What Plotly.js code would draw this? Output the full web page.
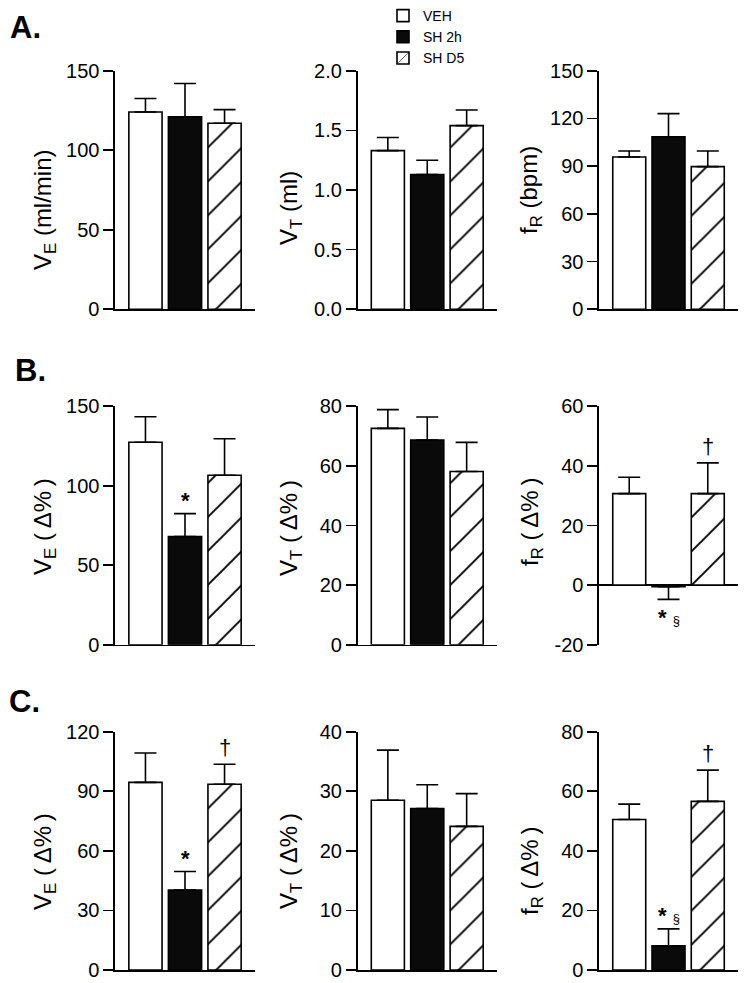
<!DOCTYPE html>
<html><head><meta charset="utf-8">
<script src="https://cdn.plot.ly/plotly-3.0.1.min.js"></script>
<style>html,body{margin:0;padding:0;background:#fff}</style>
</head><body><div id="chart" style="width:750px;height:983px"></div>
<script>
// ---------- data ----------
const groups = ['VEH', 'SH 2h', 'SH D5'];

// A. absolute values
const A_VE = [124, 121, 117];
const A_VE_sem = [8.5, 21, 8.5];
const A_VT = [1.33, 1.13, 1.54];
const A_VT_sem = [0.11, 0.12, 0.13];
const A_fR = [95.7, 108.5, 89.7];
const A_fR_sem = [3.8, 14.5, 9.8];

// B. % change
const B_VE = [127.4, 68, 106.6];
const B_VE_sem = [16, 14.5, 23];
const B_VT = [72.6, 68.7, 58.1];
const B_VT_sem = [6.3, 7.7, 9.8];
const B_fR = [30.7, -0.5, 30.7];
const B_fR_sem = [5.5, 4.3, 10.3];

// C. % change
const C_VE = [94.5, 40.3, 93.5];
const C_VE_sem = [14.8, 9.3, 10.1];
const C_VT = [28.5, 27.1, 24.1];
const C_VT_sem = [8.4, 4.0, 5.5];
const C_fR = [50.5, 8.1, 56.6];
const C_fR_sem = [5.2, 5.7, 10.5];

// significance marks
const B_VE_sig = ['', '*', ''];
const B_fR_sig = ['', '*§', '†'];
const C_VE_sig = ['', '*', '†'];
const C_fR_sig = ['', '*§', '†'];

// y tick labels
const ticksA_VE = ['0', '50', '100', '150'];
const ticksA_VT = ['0.0', '0.5', '1.0', '1.5', '2.0'];
const ticksA_fR = ['0', '30', '60', '90', '120', '150'];
const ticksB_VE = ['0', '50', '100', '150'];
const ticksB_VT = ['0', '20', '40', '60', '80'];
const ticksB_fR = ['-20', '0', '20', '40', '60'];
const ticksC_VE = ['0', '30', '60', '90', '120'];
const ticksC_VT = ['0', '10', '20', '30', '40'];
const ticksC_fR = ['0', '20', '40', '60', '80'];

// ---------- build ----------
const W = 750, H = 983;
const px = v => v / W;
const py = v => 1 - v / H;

const panels = [
  {v: A_VE, s: A_VE_sem, sig: null, t: ticksA_VE, title: 'V<sub>E</sub> (ml/min)'},
  {v: A_VT, s: A_VT_sem, sig: null, t: ticksA_VT, title: 'V<sub>T</sub> (ml)'},
  {v: A_fR, s: A_fR_sem, sig: null, t: ticksA_fR, title: 'f<sub>R</sub> (bpm)'},
  {v: B_VE, s: B_VE_sem, sig: B_VE_sig, t: ticksB_VE, title: 'V<sub>E</sub> (\u2009Δ%\u2009)'},
  {v: B_VT, s: B_VT_sem, sig: null, t: ticksB_VT, title: 'V<sub>T</sub> (\u2009Δ%\u2009)'},
  {v: B_fR, s: B_fR_sem, sig: B_fR_sig, t: ticksB_fR, title: 'f<sub>R</sub> (\u2009Δ%\u2009)'},
  {v: C_VE, s: C_VE_sem, sig: C_VE_sig, t: ticksC_VE, title: 'V<sub>E</sub> (\u2009Δ%\u2009)'},
  {v: C_VT, s: C_VT_sem, sig: null, t: ticksC_VT, title: 'V<sub>T</sub> (\u2009Δ%\u2009)'},
  {v: C_fR, s: C_fR_sem, sig: C_fR_sig, t: ticksC_fR, title: 'f<sub>R</sub> (\u2009Δ%\u2009)'}
];

// layout geometry (pixels)
const colX = [[115, 255], [357.5, 497], [599, 738]];
const rowY = [[70.7, 309.3], [406.3, 644.7], [731.7, 970]];
const titleX = [44, 290, 531];
const titleY = [[210, 208, 190], [527, 528, 522], [862, 861, 871]];

const fills = ['#ffffff', '#0a0a0a', '#ffffff'];
const FONT = 'Arial, "Liberation Sans", sans-serif';

const data = [];
const layout = {
  width: W, height: H,
  margin: {l: 0, r: 0, t: 0, b: 0},
  paper_bgcolor: '#fff', plot_bgcolor: 'rgba(0,0,0,0)',
  barmode: 'overlay',
  showlegend: true,
  legend: {
    x: px(383), y: py(0), xanchor: 'left', yanchor: 'top',
    font: {family: FONT, size: 14, color: '#000'},
    bgcolor: 'rgba(0,0,0,0)', tracegroupgap: 1, traceorder: 'normal'
  },
  font: {family: FONT, color: '#000'},
  annotations: []
};

function fmtSig(t) {
  return t.replace('*', '<b>*</b>').replace('§', ' <span style="font-size:13px">§</span>');
}

panels.forEach((p, i) => {
  const n = i + 1;
  const sfx = n === 1 ? '' : String(n);
  const r = Math.floor(i / 3), c = i % 3;
  const tv = p.t.map(Number);
  groups.forEach((g, k) => {
    const val = p.v[k], se = p.s[k];
    data.push({
      type: 'bar', x: [g], y: [val], name: g,
      xaxis: 'x' + sfx, yaxis: 'y' + sfx,
      legendgroup: g, showlegend: i === 0,
      width: 0.84,
      marker: {
        color: fills[k],
        line: {color: '#000', width: 1.6},
        pattern: k === 2 ? {shape: '/', fgcolor: '#000', bgcolor: '#fff', size: 24, solidity: 0.08, fillmode: 'replace'} : {shape: ''}
      },
      error_y: {
        type: 'data', symmetric: false,
        array: [val >= 0 ? se : 0], arrayminus: [val < 0 ? se : 0],
        color: '#000', thickness: 1.6, width: 11
      },
      hoverinfo: 'skip'
    });
    if (p.sig && p.sig[k]) {
      const up = val >= 0;
      layout.annotations.push({
        xref: 'x' + sfx, yref: 'y' + sfx,
        x: g, y: up ? val + se : val - se,
        yanchor: up ? 'bottom' : 'top', xanchor: 'center',
        text: fmtSig(p.sig[k]), showarrow: false,
        font: {family: FONT, size: 22, color: '#000'},
        yshift: up ? (p.sig[k] === '†' ? 2 : -1) : -4
      });
    }
  });
  layout['xaxis' + sfx] = {
    domain: [px(colX[c][0]), px(colX[c][1])],
    anchor: 'y' + sfx, type: 'category', categoryarray: groups,
    range: [-0.77, 2.77], showticklabels: false, ticks: '',
    showline: i !== 5, linecolor: '#000', linewidth: 1.6,
    showgrid: false, zeroline: false, fixedrange: true
  };
  layout['yaxis' + sfx] = {
    domain: [py(rowY[r][1]), py(rowY[r][0])],
    anchor: 'x' + sfx, range: [tv[0], tv[tv.length - 1]],
    tickmode: 'array', tickvals: tv, ticktext: p.t,
    ticks: 'outside', ticklen: 10, tickwidth: 1.6, tickcolor: '#000',
    showline: true, linecolor: '#000', linewidth: 1.6,
    showgrid: false, zeroline: i === 5, zerolinecolor: '#000', zerolinewidth: 1.6,
    tickfont: {family: FONT, size: 20, color: '#000'},
    fixedrange: true
  };
  layout.annotations.push({
    xref: 'paper', yref: 'paper', x: px(titleX[c]), y: py(titleY[r][c]),
    xanchor: 'center', yanchor: 'middle', textangle: -90,
    text: p.title, showarrow: false,
    font: {family: FONT, size: 24, color: '#000'}
  });
});

// panel letters
[['A.', 8, 27.5], ['B.', 13, 370], ['C.', 7, 701]].forEach(([t, x, y]) => {
  layout.annotations.push({
    xref: 'paper', yref: 'paper', x: px(x), y: py(y),
    xanchor: 'left', yanchor: 'middle', text: '<b>' + t + '</b>',
    showarrow: false, font: {family: FONT, size: 31, color: '#000'}
  });
});

Plotly.newPlot('chart', data, layout, {staticPlot: true, displayModeBar: false});
</script>
</body></html>
